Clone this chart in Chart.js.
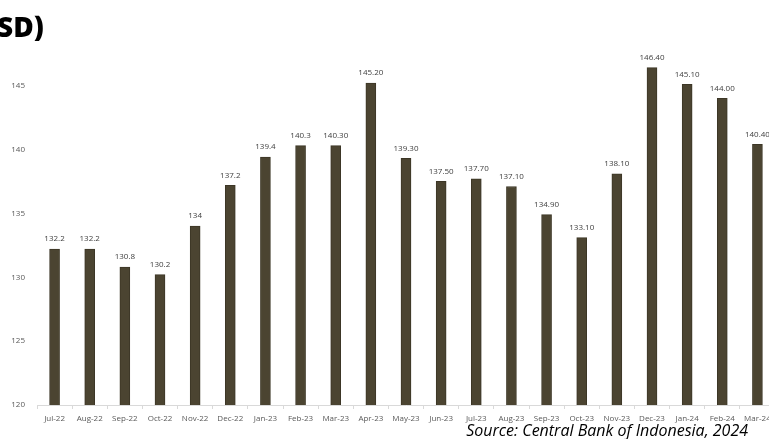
<!DOCTYPE html>
<html>
<head>
<meta charset="utf-8">
<script src="https://cdn.jsdelivr.net/npm/chart.js@4/dist/chart.umd.min.js"></script>
<style>
html,body{margin:0;padding:0;background:#fff;overflow:hidden;width:769px;height:439px;}
#wrap{position:relative;width:769px;height:439px;overflow:hidden;}
canvas{position:absolute;left:0;top:0;}
#title{position:absolute;left:-3px;top:12px;font-family:"Open Sans",sans-serif;font-weight:800;font-size:28px;color:#000;line-height:1;white-space:nowrap;}
#source{position:absolute;right:21px;top:422px;font-family:"Open Sans",sans-serif;font-style:italic;font-size:16px;color:#000;line-height:1;white-space:nowrap;}
</style>
</head>
<body>
<div id="wrap">
<canvas id="c" width="782" height="439"></canvas>
<div id="title">SD)</div>
<div id="source">Source: Central Bank of Indonesia, 2024</div>
</div>
<script>
const categories = ["Jul-22","Aug-22","Sep-22","Oct-22","Nov-22","Dec-22","Jan-23","Feb-23","Mar-23","Apr-23","May-23","Jun-23","Jul-23","Aug-23","Sep-23","Oct-23","Nov-23","Dec-23","Jan-24","Feb-24","Mar-24"];
const values = [132.2,132.2,130.8,130.2,134,137.2,139.4,140.3,140.3,145.2,139.3,137.5,137.7,137.1,134.9,133.1,138.1,146.4,145.1,144.0,140.4];
const valueLabels = ["132.2","132.2","130.8","130.2","134","137.2","139.4","140.3","140.30","145.20","139.30","137.50","137.70","137.10","134.90","133.10","138.10","146.40","145.10","144.00","140.40"];
const yTicks = [120,125,130,135,140,145];

const labelPlugin = {
  id: 'valueLabels',
  afterDatasetsDraw(chart) {
    const ctx = chart.ctx;
    const meta = chart.getDatasetMeta(0);
    ctx.save();
    ctx.font = '8px "Open Sans", sans-serif';
    ctx.fillStyle = '#404040';
    ctx.textAlign = 'center';
    ctx.textBaseline = 'middle';
    meta.data.forEach((bar, i) => {
      ctx.fillText(valueLabels[i], bar.x, bar.y - 10);
    });
    ctx.restore();
  }
};

new Chart(document.getElementById('c'), {
  type: 'bar',
  data: {
    labels: categories,
    datasets: [{
      data: values,
      backgroundColor: '#4b4431',
      borderColor: '#3c3626',
      borderWidth: 1,
      barThickness: 10
    }]
  },
  options: {
    responsive: false,
    animation: false,
    layout: { padding: { top: 60, right: 7, left: 0, bottom: 0 } },
    plugins: { legend: { display: false }, tooltip: { enabled: false } },
    scales: {
      x: {
        offset: true,
        grid: { offset: true, drawOnChartArea: false, drawTicks: true, tickLength: 4, color: '#d9d9d9' },
        border: { display: true, color: '#d9d9d9', width: 1 },
        ticks: { color: '#595959', font: { size: 8, family: '"Open Sans", sans-serif' }, padding: 5, maxRotation: 0, autoSkip: false },
        afterFit(s) { s.height = 34; }
      },
      y: {
        min: 120,
        max: 147,
        grid: { display: false, drawTicks: false },
        border: { display: false },
        ticks: { color: '#595959', font: { size: 8, family: '"Open Sans", sans-serif' }, padding: 12 },
        afterBuildTicks(s) { s.ticks = yTicks.map(v => ({ value: v })); },
        afterFit(s) { s.width = 37; }
      }
    }
  },
  plugins: [labelPlugin]
});
</script>
</body>
</html>
